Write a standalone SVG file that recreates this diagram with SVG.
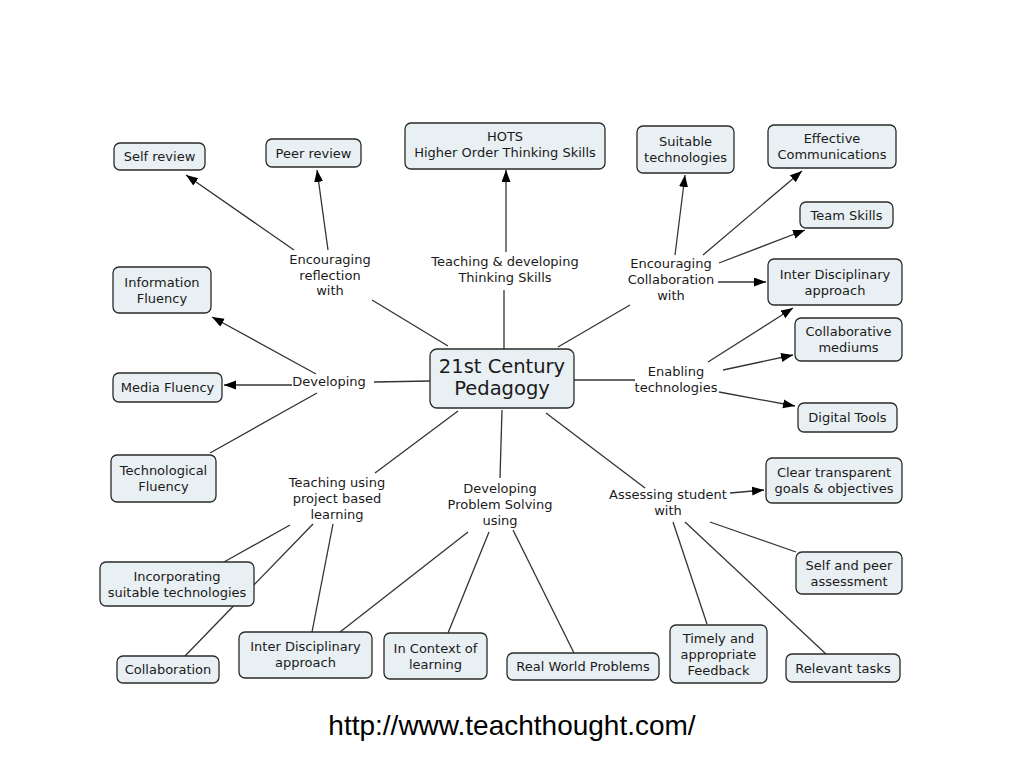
<svg xmlns="http://www.w3.org/2000/svg" width="1024" height="768" viewBox="0 0 1024 768">
<style>
.box{fill:#e9f0f3;stroke:#2a2a2a;stroke-width:1.3}
.t{font-family:"DejaVu Sans",Verdana,sans-serif;font-size:13px;fill:#1a1a1a;text-anchor:middle}
.big{font-size:19.5px}
.ln{stroke:#333;stroke-width:1.3;fill:none}
.ar{marker-end:url(#arr)}
.url{font-family:"Liberation Sans",Arial,sans-serif;font-size:28px;fill:#000;text-anchor:middle}
</style>
<defs>
<marker id="arr" markerUnits="userSpaceOnUse" markerWidth="13" markerHeight="10" refX="12" refY="4.5" orient="auto">
<path d="M0,0 L12,4.5 L0,9 z" fill="#000"/>
</marker>
</defs>
<rect width="1024" height="768" fill="#fff"/>
<g id="connectors">
<line class="ln" x1="448" y1="346" x2="372" y2="300"/>
<line class="ln ar" x1="294" y1="250" x2="186" y2="175"/>
<line class="ln ar" x1="328" y1="250" x2="317" y2="170"/>
<line class="ln" x1="504" y1="290" x2="504" y2="349"/>
<line class="ln ar" x1="506" y1="252" x2="506" y2="170"/>
<line class="ln" x1="558" y1="347" x2="630" y2="305"/>
<line class="ln ar" x1="675" y1="255" x2="685" y2="175"/>
<line class="ln ar" x1="703" y1="255" x2="802" y2="171"/>
<line class="ln ar" x1="719" y1="263" x2="805" y2="230"/>
<line class="ln ar" x1="718" y1="282" x2="766" y2="282"/>
<line class="ln" x1="374" y1="382" x2="430" y2="381"/>
<line class="ln ar" x1="316" y1="374" x2="212" y2="317"/>
<line class="ln ar" x1="292" y1="385" x2="224" y2="385"/>
<line class="ln" x1="317" y1="393" x2="210" y2="453"/>
<line class="ln" x1="574" y1="380" x2="635" y2="380"/>
<line class="ln ar" x1="708" y1="362" x2="793" y2="308"/>
<line class="ln ar" x1="723" y1="370" x2="793" y2="355"/>
<line class="ln ar" x1="719" y1="392" x2="795" y2="406"/>
<line class="ln" x1="546" y1="413" x2="645" y2="488"/>
<line class="ln ar" x1="730" y1="493" x2="764" y2="490"/>
<line class="ln" x1="673" y1="522" x2="707" y2="624"/>
<line class="ln" x1="685" y1="522" x2="826" y2="654"/>
<line class="ln" x1="710" y1="522" x2="796" y2="552"/>
<line class="ln" x1="502" y1="410" x2="500" y2="478"/>
<line class="ln" x1="458" y1="411" x2="375" y2="473"/>
<line class="ln" x1="290" y1="525" x2="224" y2="562"/>
<line class="ln" x1="313" y1="524" x2="185" y2="656"/>
<line class="ln" x1="333" y1="524" x2="312" y2="632"/>
<line class="ln" x1="468" y1="532" x2="340" y2="632"/>
<line class="ln" x1="489" y1="532" x2="448" y2="633"/>
<line class="ln" x1="513" y1="530" x2="574" y2="653"/>
</g>
<g id="phrases">
<g id="p-reflection"><text class="t" x="330" y="264">Encouraging</text><text class="t" x="330" y="280">reflection</text><text class="t" x="330" y="295">with</text></g>
<g id="p-thinking"><text class="t" x="505" y="266">Teaching &amp; developing</text><text class="t" x="505" y="282">Thinking Skills</text></g>
<g id="p-collab"><text class="t" x="671" y="268">Encouraging</text><text class="t" x="671" y="284">Collaboration</text><text class="t" x="671" y="300">with</text></g>
<g id="p-developing"><text class="t" x="329" y="386">Developing</text></g>
<g id="p-enabling"><text class="t" x="676" y="376">Enabling</text><text class="t" x="676" y="392">technologies</text></g>
<g id="p-project"><text class="t" x="337" y="487">Teaching using</text><text class="t" x="337" y="503">project based</text><text class="t" x="337" y="519">learning</text></g>
<g id="p-problem"><text class="t" x="500" y="493">Developing</text><text class="t" x="500" y="509">Problem Solving</text><text class="t" x="500" y="525">using</text></g>
<g id="p-assess"><text class="t" x="668" y="499">Assessing student</text><text class="t" x="668" y="515">with</text></g>
</g>
<g id="n-center"><rect class="box" x="430" y="349" width="144" height="59" rx="7"/><text class="t big" x="502" y="373">21st Century</text><text class="t big" x="502" y="395">Pedagogy</text></g>
<g id="n-self"><rect class="box" x="114" y="143" width="91" height="27" rx="6"/><text class="t" x="159.5" y="161">Self review</text></g>
<g id="n-peer"><rect class="box" x="266" y="139" width="95" height="28" rx="6"/><text class="t" x="313.5" y="157.5">Peer review</text></g>
<g id="n-hots"><rect class="box" x="405" y="123" width="200" height="46" rx="6"/><text class="t" x="505" y="141">HOTS</text><text class="t" x="505" y="157">Higher Order Thinking Skills</text></g>
<g id="n-info"><rect class="box" x="113" y="267" width="98" height="46" rx="6"/><text class="t" x="162" y="286.5">Information</text><text class="t" x="162" y="302.5">Fluency</text></g>
<g id="n-suit"><rect class="box" x="637" y="126" width="97" height="47" rx="6"/><text class="t" x="685.5" y="146">Suitable</text><text class="t" x="685.5" y="162">technologies</text></g>
<g id="n-eff"><rect class="box" x="768" y="125" width="128" height="43" rx="6"/><text class="t" x="832" y="143">Effective</text><text class="t" x="832" y="159">Communications</text></g>
<g id="n-team"><rect class="box" x="800" y="202" width="93" height="26" rx="6"/><text class="t" x="846.5" y="219.5">Team Skills</text></g>
<g id="n-interR"><rect class="box" x="768" y="259" width="134" height="46" rx="6"/><text class="t" x="835" y="278.5">Inter Disciplinary</text><text class="t" x="835" y="294.5">approach</text></g>
<g id="n-cmed"><rect class="box" x="795" y="318" width="107" height="43" rx="6"/><text class="t" x="848.5" y="336">Collaborative</text><text class="t" x="848.5" y="352">mediums</text></g>
<g id="n-digital"><rect class="box" x="798" y="403" width="99" height="29" rx="6"/><text class="t" x="847.5" y="422">Digital Tools</text></g>
<g id="n-clear"><rect class="box" x="766" y="458" width="136" height="45" rx="6"/><text class="t" x="834" y="477">Clear transparent</text><text class="t" x="834" y="493">goals &amp; objectives</text></g>
<g id="n-media"><rect class="box" x="113" y="373" width="109" height="29" rx="6"/><text class="t" x="167.5" y="392">Media Fluency</text></g>
<g id="n-tech"><rect class="box" x="111" y="455" width="105" height="47" rx="6"/><text class="t" x="163.5" y="475">Technological</text><text class="t" x="163.5" y="491">Fluency</text></g>
<g id="n-incorp"><rect class="box" x="100" y="562" width="154" height="44" rx="6"/><text class="t" x="177" y="580.5">Incorporating</text><text class="t" x="177" y="596.5">suitable technologies</text></g>
<g id="n-collab"><rect class="box" x="117" y="656" width="102" height="27" rx="6"/><text class="t" x="168" y="674">Collaboration</text></g>
<g id="n-interB"><rect class="box" x="239" y="632" width="133" height="46" rx="6"/><text class="t" x="305.5" y="650.5">Inter Disciplinary</text><text class="t" x="305.5" y="666.5">approach</text></g>
<g id="n-context"><rect class="box" x="384" y="633" width="103" height="46" rx="6"/><text class="t" x="435.5" y="652.5">In Context of</text><text class="t" x="435.5" y="668.5">learning</text></g>
<g id="n-real"><rect class="box" x="507" y="653" width="152" height="27" rx="6"/><text class="t" x="583" y="671">Real World Problems</text></g>
<g id="n-timely"><rect class="box" x="670" y="625" width="97" height="58" rx="6"/><text class="t" x="718.5" y="642.5">Timely and</text><text class="t" x="718.5" y="658.5">appropriate</text><text class="t" x="718.5" y="674.5">Feedback</text></g>
<g id="n-selfpeer"><rect class="box" x="796" y="552" width="106" height="42" rx="6"/><text class="t" x="849" y="569.5">Self and peer</text><text class="t" x="849" y="585.5">assessment</text></g>
<g id="n-relevant"><rect class="box" x="786" y="654" width="114" height="28" rx="6"/><text class="t" x="843" y="672.5">Relevant tasks</text></g>
<text class="url" x="512" y="735">http://www.teachthought.com/</text>
</svg>
